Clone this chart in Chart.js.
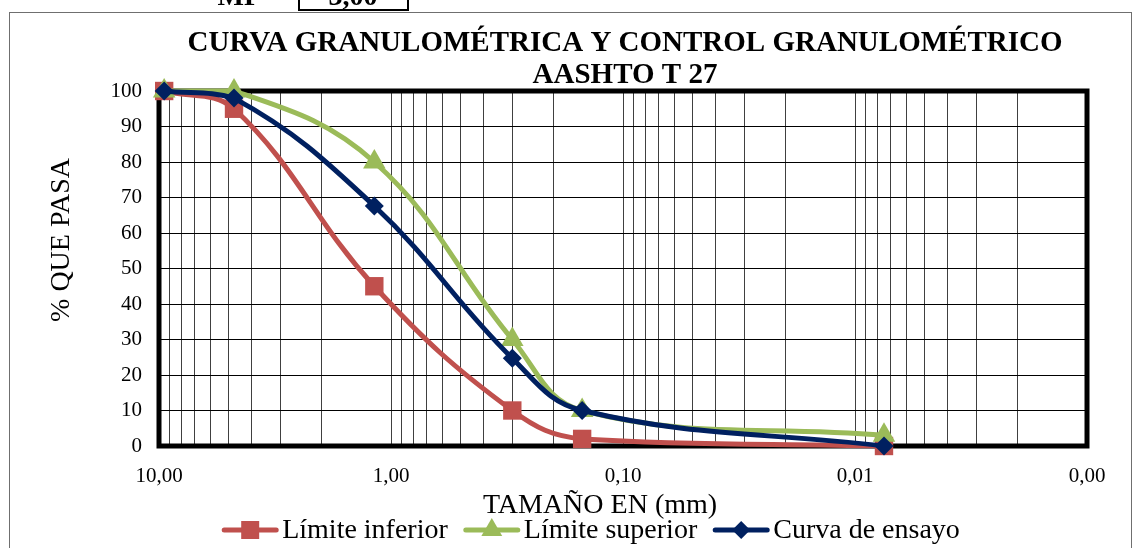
<!DOCTYPE html>
<html>
<head>
<meta charset="utf-8">
<script src="https://cdn.jsdelivr.net/npm/chart.js@4"></script>
<style>
  html, body { margin: 0; padding: 0; background: #fff; }
  #wrap { width: 1136px; height: 548px; position: relative; }
</style>
</head>
<body>
<div id="wrap"><canvas id="granChart" width="1136" height="548"></canvas></div>
<script>
// tamices (mm) y % que pasa
const sizes = [9.5, 4.75, 1.18, 0.3, 0.15, 0.0075];
const limiteInferior = [100, 95, 45, 10, 2, 0];
const limiteSuperior = [100, 100, 80, 30, 10, 3];
const curvaEnsayo = [100, 98, 67.6, 24.7, 10, 0];
const xTickValues = [10, 1, 0.1, 0.01, 0.001];
const yTickValues = [0, 10, 20, 30, 40, 50, 60, 70, 80, 90, 100];

const RED = '#C0504D', GREEN = '#9BBB59', NAVY = '#002060';
const SERIF = '"Liberation Serif", "Times New Roman", serif';

function toPoints(vals) {
    return sizes.map(function(s, i) { return { x: s, y: vals[i] }; });
}

// grid lines for every 1..9 x 10^n
function logGridTicks() {
    const out = [];
    for (let e = -3; e <= 1; e++) {
        for (let m = 1; m <= 9; m++) {
            const v = m * Math.pow(10, e);
            if (v < 0.001 - 1e-12 || v > 10 + 1e-9) continue;
            out.push({ value: v, major: m === 1 });
        }
    }
    return out;
}

function drawMarker(ctx, style, x, y, r, color) {
    ctx.save();
    ctx.fillStyle = color;
    ctx.beginPath();
    if (style === 'rect') {
        ctx.rect(x - r, y - r, 2 * r, 2 * r);
    } else if (style === 'triangle') {
        ctx.moveTo(x, y - r);
        ctx.lineTo(x + r * 0.87, y + r * 0.5);
        ctx.lineTo(x - r * 0.87, y + r * 0.5);
        ctx.closePath();
    } else {
        ctx.moveTo(x, y - r);
        ctx.lineTo(x + r, y);
        ctx.lineTo(x, y + r);
        ctx.lineTo(x - r, y);
        ctx.closePath();
    }
    ctx.fill();
    ctx.restore();
}

const extrasPlugin = {
    id: 'extras',
    beforeDatasetsDraw: function(chart) {
        const ctx = chart.ctx, a = chart.chartArea;
        ctx.save();
        ctx.strokeStyle = '#000';
        ctx.lineWidth = 5;
        ctx.strokeRect(a.left, a.top, a.right - a.left, a.bottom - a.top);
        ctx.restore();
    },
    afterDraw: function(chart) {
        const ctx = chart.ctx;
        ctx.save();

        // outer frame of the chart object
        ctx.strokeStyle = '#6f6f6f';
        ctx.lineWidth = 1;
        ctx.strokeRect(9.5, 12.5, 1122, 600);

        // MF box (cut at the top)
        ctx.fillStyle = '#000';
        ctx.font = 'bold 28px ' + SERIF;
        ctx.textAlign = 'right';
        ctx.textBaseline = 'alphabetic';
        ctx.fillText('MF =', 284, 5);
        ctx.lineWidth = 2;
        ctx.strokeStyle = '#000';
        ctx.strokeRect(299, -10, 109, 20);
        ctx.textAlign = 'center';
        ctx.fillText('3,00', 353, 5);

        // title
        ctx.font = 'bold 29px ' + SERIF;
        ctx.fillText('CURVA GRANULOMÉTRICA Y CONTROL GRANULOMÉTRICO', 625, 51);
        ctx.fillText('AASHTO T 27', 625, 83);

        // axis titles
        ctx.font = '28px ' + SERIF;
        ctx.textBaseline = 'middle';
        ctx.fillText('TAMAÑO EN (mm)', 600, 506);
        ctx.save();
        ctx.translate(62, 240);
        ctx.rotate(-Math.PI / 2);
        ctx.fillText('% QUE PASA', 0, 0);
        ctx.restore();

        // legend: line + marker + text
        const items = [
            { text: 'Límite inferior', color: RED, style: 'rect', r: 9 },
            { text: 'Límite superior', color: GREEN, style: 'triangle', r: 12 },
            { text: 'Curva de ensayo', color: NAVY, style: 'rectRot', r: 9 }
        ];
        const lineLen = 56, gapText = 4, gapItem = 16;
        let total = 0;
        items.forEach(function(it) {
            it.w = ctx.measureText(it.text).width;
            total += lineLen + gapText + it.w;
        });
        total += gapItem * (items.length - 1);
        let x = 591 - total / 2;
        const ly = 530;
        ctx.textAlign = 'left';
        items.forEach(function(it) {
            ctx.strokeStyle = it.color;
            ctx.lineWidth = 5;
            ctx.lineCap = 'round';
            ctx.beginPath();
            ctx.moveTo(x + 2, ly);
            ctx.lineTo(x + lineLen - 2, ly);
            ctx.stroke();
            drawMarker(ctx, it.style, x + lineLen / 2, ly, it.r, it.color);
            ctx.fillStyle = '#000';
            ctx.fillText(it.text, x + lineLen + gapText, ly + 1);
            x += lineLen + gapText + it.w + gapItem;
        });
        ctx.restore();
    }
};

const ctx = document.getElementById('granChart').getContext('2d');
new Chart(ctx, {
    type: 'line',
    data: {
        datasets: [
            {
                label: 'Límite inferior',
                data: toPoints(limiteInferior),
                borderColor: RED,
                backgroundColor: RED,
                borderWidth: 5,
                tension: 0.4,
                pointStyle: 'rect',
                pointRadius: 13,
                pointBorderWidth: 0,
                clip: false,
                order: 3
            },
            {
                label: 'Límite superior',
                data: toPoints(limiteSuperior),
                borderColor: GREEN,
                backgroundColor: GREEN,
                borderWidth: 5,
                tension: 0.4,
                pointStyle: 'triangle',
                pointRadius: 13,
                pointBorderWidth: 0,
                clip: false,
                order: 2
            },
            {
                label: 'Curva de ensayo',
                data: toPoints(curvaEnsayo),
                borderColor: NAVY,
                backgroundColor: NAVY,
                borderWidth: 5,
                tension: 0.4,
                pointStyle: 'rectRot',
                pointRadius: 9.5,
                pointBorderWidth: 0,
                clip: false,
                order: 1
            }
        ]
    },
    options: {
        responsive: false,
        animation: false,
        events: [],
        layout: { padding: { left: 0, top: 91, right: 49, bottom: 0 } },
        plugins: {
            legend: { display: false },
            title: { display: false },
            tooltip: { enabled: false }
        },
        scales: {
            x: {
                type: 'logarithmic',
                reverse: true,
                min: 0.001,
                max: 10,
                afterBuildTicks: function(scale) { scale.ticks = logGridTicks(); },
                afterFit: function(scale) { scale.height = 102; },
                border: { display: false },
                grid: { color: '#404040', lineWidth: 1, drawTicks: false },
                ticks: {
                    autoSkip: false,
                    maxRotation: 0,
                    padding: 18,
                    color: '#000',
                    font: { family: SERIF, size: 21 },
                    callback: function(value) {
                        if (xTickValues.some(function(t) { return Math.abs(t - value) < 1e-9; })) {
                            return value.toFixed(2).replace('.', ',');
                        }
                        return '';
                    }
                }
            },
            y: {
                min: 0,
                max: 100,
                afterBuildTicks: function(scale) {
                    scale.ticks = yTickValues.map(function(v) { return { value: v }; });
                },
                afterFit: function(scale) { scale.width = 159; },
                border: { display: false },
                grid: { color: '#000', lineWidth: 1, drawTicks: false },
                ticks: {
                    padding: 17,
                    color: '#000',
                    font: { family: SERIF, size: 21 }
                }
            }
        }
    },
    plugins: [extrasPlugin]
});
</script>
</body>
</html>
